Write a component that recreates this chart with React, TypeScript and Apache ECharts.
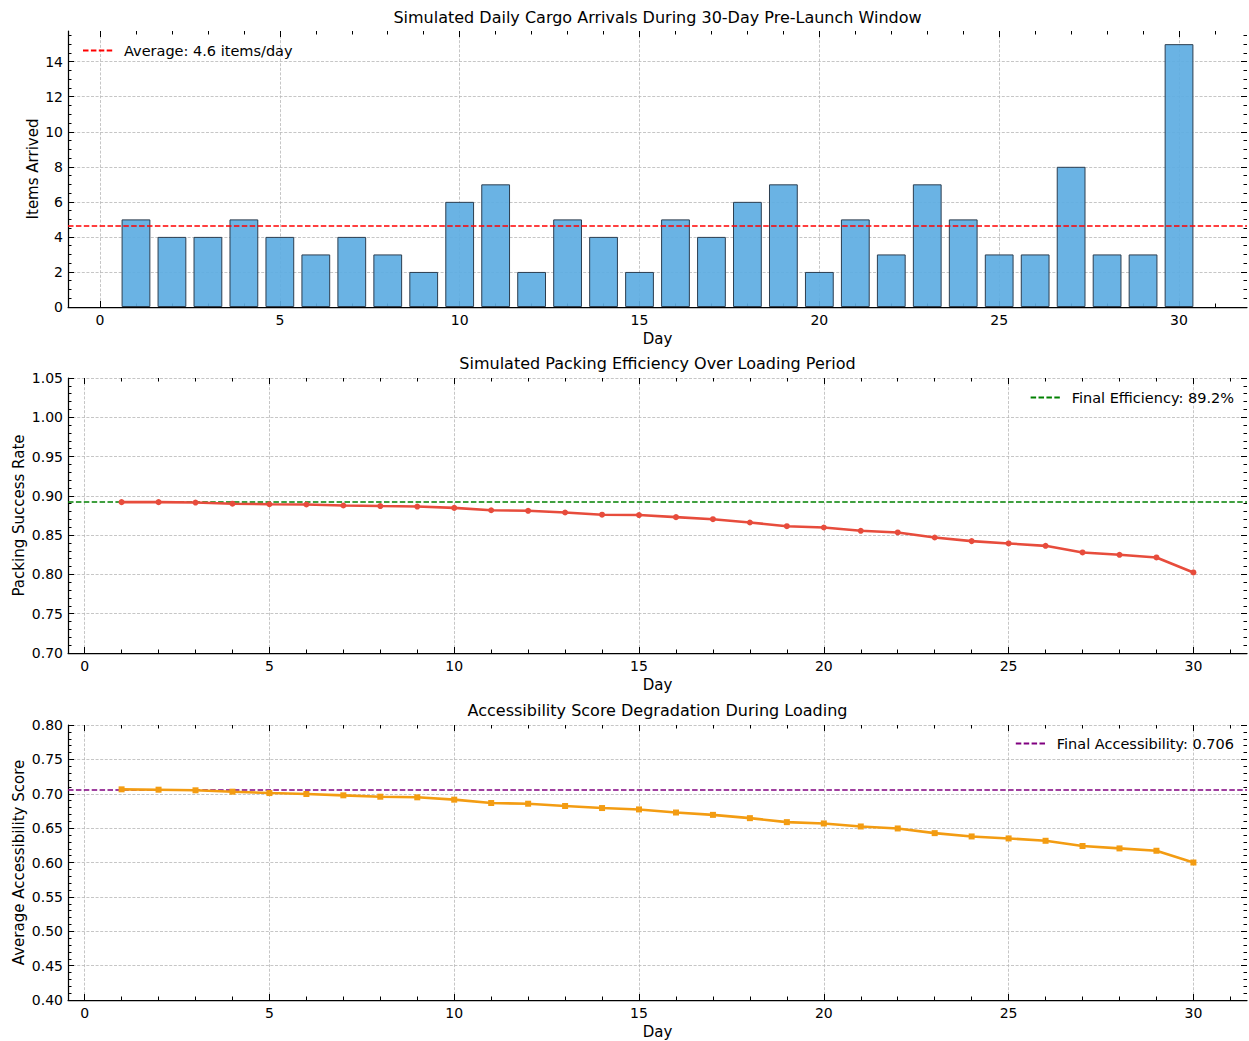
import React, { useEffect, useRef } from "react";
import * as echarts from "echarts";

// ---------------- data ----------------
const days = [1, 2, 3, 4, 5, 6, 7, 8, 9, 10, 11, 12, 13, 14, 15, 16, 17, 18, 19, 20, 21, 22, 23, 24, 25, 26, 27, 28, 29, 30];
const arrivals = [5, 4, 4, 5, 4, 3, 4, 3, 2, 6, 7, 2, 5, 4, 2, 5, 4, 6, 7, 2, 5, 3, 7, 5, 3, 3, 8, 3, 3, 15];
const efficiency = [
  0.892, 0.892, 0.8915, 0.89, 0.8893, 0.889, 0.8877, 0.887, 0.8864, 0.8847,
  0.8817, 0.881, 0.8788, 0.876, 0.8756, 0.8729, 0.8703, 0.8661, 0.8614, 0.8597,
  0.8555, 0.8534, 0.847, 0.8424, 0.8394, 0.8364, 0.828, 0.825, 0.8216, 0.8025,
];
const accessibility = [
  0.7064, 0.7059, 0.705, 0.703, 0.701, 0.6996, 0.6977, 0.6957, 0.6948, 0.6914,
  0.6865, 0.6855, 0.6822, 0.6792, 0.6772, 0.6727, 0.6693, 0.6645, 0.6587, 0.6568,
  0.6524, 0.6495, 0.6427, 0.6379, 0.635, 0.6316, 0.624, 0.6205, 0.6171, 0.6,
];
const finalEfficiency = 0.892;
const finalAccessibility = 0.706;

// tick values
const dayMajorTicks = [0, 5, 10, 15, 20, 25, 30];
const arrivalsMajorTicks = [0, 2, 4, 6, 8, 10, 12, 14];
const efficiencyMajorTicks = [0.7, 0.75, 0.8, 0.85, 0.9, 0.95, 1.0, 1.05];
const accessMajorTicks = [0.4, 0.45, 0.5, 0.55, 0.6, 0.65, 0.7, 0.75, 0.8];

const titles = [
  "Simulated Daily Cargo Arrivals During 30-Day Pre-Launch Window",
  "Simulated Packing Efficiency Over Loading Period",
  "Accessibility Score Degradation During Loading",
];
const yNames = ["Items Arrived", "Packing Success Rate", "Average Accessibility Score"];

function steps(from: number, to: number, step: number): number[] {
  const out: number[] = [];
  const n = Math.round((to - from) / step);
  for (let i = 0; i <= n; i++) out.push(Math.round((from + i * step) * 1000) / 1000);
  return out;
}

const FONT = "DejaVu Sans";
const PLOT_LEFT = 68;
const PLOT_WIDTH = 1179;
const grids = [
  { top: 31, height: 276 },
  { top: 378, height: 275 },
  { top: 725, height: 275 },
];

export default function App() {
  const ref = useRef<HTMLDivElement>(null);
  useEffect(() => {
    if (!ref.current) return;
    const chart = echarts.init(ref.current, null, { renderer: "svg" });

    const mean = arrivals.reduce((a, b) => a + b, 0) / arrivals.length;
    const xr = [
      [-0.89, 31.89],
      [-0.45, 31.45],
      [-0.45, 31.45],
    ];
    const yr = [
      [0, 15.75],
      [0.7, 1.05],
      [0.4, 0.8],
    ];
    const yMajor = [arrivalsMajorTicks, efficiencyMajorTicks, accessMajorTicks];
    const yMinor = [steps(0, 15.5, 0.5), steps(0.7, 1.05, 0.01), steps(0.4, 0.8, 0.01)];
    const yFmt = [
      (v: number) => String(Math.round(v)),
      (v: number) => v.toFixed(2),
      (v: number) => v.toFixed(2),
    ];
    const yNameGap = [28, 42, 42];
    const dayMinor = steps(0, 31, 1);

    const tickStyle = { color: "#000", width: 1 };
    const gridLine = { color: "#b8b8b8", width: 0.8, type: [3, 1.6] };
    const labelFont = { fontFamily: FONT, fontSize: 14, color: "#000" };
    const nameFont = { fontFamily: FONT, fontSize: 15, color: "#000" };
    const MAJOR = 6;
    const MINOR = 3.5;

    const xAxis: any[] = [];
    const yAxis: any[] = [];
    grids.forEach((_, g) => {
      const [xmin, xmax] = xr[g];
      const [ymin, ymax] = yr[g];
      xAxis.push({
        type: "value", gridIndex: g, position: "bottom", min: xmin, max: xmax,
        axisLine: { show: true, onZero: false, lineStyle: { color: "#000", width: 1.25 } },
        axisTick: { show: true, inside: true, length: MAJOR, customValues: dayMajorTicks, lineStyle: tickStyle },
        axisLabel: { show: true, customValues: dayMajorTicks, margin: 6, ...labelFont, formatter: (v: number) => String(v) },
        splitLine: { show: true, lineStyle: gridLine },
        name: "Day", nameLocation: "middle", nameGap: 24, nameMoveOverlap: false, nameTextStyle: nameFont,
      });
      const extraX = [
        { position: "bottom", vals: dayMinor, len: MINOR },
        { position: "top", vals: dayMajorTicks, len: MAJOR },
        { position: "top", vals: dayMinor, len: MINOR },
      ];
      extraX.forEach((e) =>
        xAxis.push({
          type: "value", gridIndex: g, position: e.position, min: xmin, max: xmax,
          axisLine: { show: false, onZero: false },
          axisTick: { show: true, inside: true, length: e.len, customValues: e.vals, lineStyle: tickStyle },
          axisLabel: { show: false },
          splitLine: { show: false },
        })
      );
      yAxis.push({
        type: "value", gridIndex: g, position: "left", min: ymin, max: ymax,
        axisLine: { show: true, onZero: false, lineStyle: { color: "#000", width: 1.25 } },
        axisTick: { show: true, inside: true, length: MAJOR, customValues: yMajor[g], lineStyle: tickStyle },
        axisLabel: { show: true, customValues: yMajor[g], margin: 5, ...labelFont, formatter: yFmt[g] },
        splitLine: { show: true, lineStyle: gridLine },
        name: yNames[g], nameLocation: "middle", nameGap: yNameGap[g], nameMoveOverlap: false, nameTextStyle: nameFont,
      });
      const extraY = [
        { position: "left", vals: yMinor[g], len: MINOR },
        { position: "right", vals: yMajor[g], len: MAJOR },
        { position: "right", vals: yMinor[g], len: MINOR },
      ];
      extraY.forEach((e) =>
        yAxis.push({
          type: "value", gridIndex: g, position: e.position, min: ymin, max: ymax,
          axisLine: { show: false, onZero: false },
          axisTick: { show: true, inside: true, length: e.len, customValues: e.vals, lineStyle: tickStyle },
          axisLabel: { show: false },
          splitLine: { show: false },
        })
      );
    });

    const barWidth = (0.8 * PLOT_WIDTH) / (xr[0][1] - xr[0][0]);
    const avgLabel = `Average: ${mean.toFixed(1)} items/day`;
    const effLabel = `Final Efficiency: ${(finalEfficiency * 100).toFixed(1)}%`;
    const accLabel = `Final Accessibility: ${finalAccessibility.toFixed(3)}`;

    const dash = [5.5, 2.4];
    const refLine = (name: string, g: number, value: number, color: string) => ({
      name, type: "line", xAxisIndex: g * 4, yAxisIndex: g * 4, data: [], symbol: "none", symbolSize: 0, z: 6,
      lineStyle: { color, width: 1.5, type: dash },
      itemStyle: { color, opacity: 0 },
      markLine: {
        silent: true, symbol: "none", precision: 6, label: { show: false },
        lineStyle: { color, width: 1.5, type: dash, opacity: 1 },
        data: [{ yAxis: value }],
      },
    });

    const legendBase = {
      padding: 0, itemWidth: 30, itemHeight: 14,
      itemStyle: { opacity: 0 },
    };

    const option: any = {
      animation: false,
      backgroundColor: "#fff",
      textStyle: { fontFamily: FONT },
      title: titles.map((t, g) => ({
        text: t, left: PLOT_LEFT + PLOT_WIDTH / 2, textAlign: "center",
        top: [8, 354, 701][g], padding: 0,
        textStyle: { fontFamily: FONT, fontSize: 16, fontWeight: "normal", color: "#000", lineHeight: 18 },
      })),
      legend: [
        {
          ...legendBase, data: [avgLabel], left: 82, top: 43,
          textStyle: { fontFamily: FONT, fontSize: 14.5, color: "#000", padding: [0, 0, 0, 6] },
        },
        {
          ...legendBase, data: [effLabel], right: 15, top: 390,
          textStyle: { fontFamily: FONT, fontSize: 14.5, color: "#000", padding: [0, 0, 0, 6] },
        },
        {
          ...legendBase, data: [accLabel], right: 15, top: 736,
          textStyle: { fontFamily: FONT, fontSize: 14.5, color: "#000", padding: [0, 0, 0, 6] },
        },
      ],
      grid: grids.map((gr) => ({ left: PLOT_LEFT, width: PLOT_WIDTH, top: gr.top, height: gr.height, containLabel: false })),
      xAxis,
      yAxis,
      series: [
        {
          name: "Arrivals", type: "bar", xAxisIndex: 0, yAxisIndex: 0, barWidth, z: 3,
          data: days.map((d, i) => [d, arrivals[i]]),
          itemStyle: { color: "rgba(93,173,226,0.92)", borderColor: "#2c3e50", borderWidth: 1 },
        },
        refLine(avgLabel, 0, mean, "#ff0000"),
        {
          name: "Efficiency", type: "line", xAxisIndex: 4, yAxisIndex: 4, z: 5,
          data: days.map((d, i) => [d, efficiency[i]]),
          symbol: "circle", symbolSize: 6, showSymbol: true,
          lineStyle: { color: "#e74c3c", width: 2.6 },
          itemStyle: { color: "#e74c3c" },
        },
        refLine(effLabel, 1, finalEfficiency, "#008000"),
        {
          name: "Accessibility", type: "line", xAxisIndex: 8, yAxisIndex: 8, z: 5,
          data: days.map((d, i) => [d, accessibility[i]]),
          symbol: "rect", symbolSize: 6, showSymbol: true,
          lineStyle: { color: "#f39c12", width: 2.6 },
          itemStyle: { color: "#f39c12" },
        },
        refLine(accLabel, 2, finalAccessibility, "#800080"),
      ],
    };
    chart.setOption(option);
    return () => chart.dispose();
  }, []);
  return (
    <div
      ref={ref}
      style={{ position: "fixed", left: 0, top: 0, width: 1249, height: 1041, background: "#fff" }}
    />
  );
}
